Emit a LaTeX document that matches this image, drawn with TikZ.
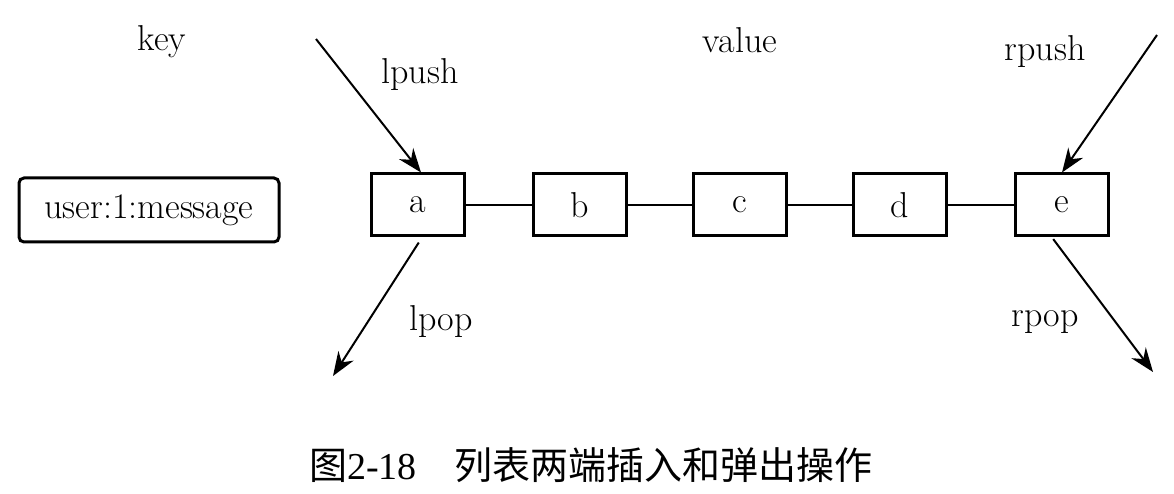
\documentclass[tikz,border=0pt]{standalone}
\usepackage{fontspec}
\newfontfamily\cjk{Noto Sans CJK SC}
\newfontfamily\capnum{Liberation Serif}
\usetikzlibrary{arrows.meta}
\begin{document}
\begin{tikzpicture}
        [x=1pt,y=-1pt,
         cell/.style={draw,line width=3pt,minimum width=93pt,minimum height=62pt,inner sep=0pt},
         link/.style={line width=2pt},
         push/.style={line width=2pt,-{Stealth[length=24pt,width=18pt]}},
         lbl/.style={inner sep=0pt}]
        \useasboundingbox (0,0) rectangle (1174,494);
        \fontsize{36}{40}\selectfont

        \node[lbl] (keytxt) at (162,42) {key};
        \node[lbl] (valtxt) at (740,40) {value};

        \node[draw,line width=3pt,rounded corners=5pt,minimum width=260pt,minimum height=64pt,inner sep=0pt]
          (key) at (149,210) {user:1:message};

        \foreach \n/\x in {a/418,b/580,c/740,d/900,e/1062}
        {\node[cell] (\n) at (\x,205) {\n};}
        \foreach \p/\q in {a/b,b/c,c/d,d/e}
        {\draw[link] (\p) -- (\q);}

        \coordinate (lin) at (316,39);
        \coordinate (rin) at (1157,35);
        \coordinate (lout) at (333,376);
        \coordinate (rout) at (1153,372);
        \draw[push] (lin) -- ([xshift=3pt]a.north);
        \draw[push] (rin) -- (e.north);
        \draw[push,shorten <=6pt] ([xshift=4pt]a.south) -- (lout);
        \draw[push,shorten <=2pt] ([xshift=-10pt]e.south) -- (rout);

        \node[lbl] (lpush) at (420,75) {lpush};
        \node[lbl] (rpush) at (1045,52) {rpush};
        \node[lbl] (lpop) at (441,322) {lpop};
        \node[lbl] (rpop) at (1045,322) {rpop};

        \node[lbl,font=\fontsize{38}{42}\selectfont] (cap) at (591,465)
          {{\cjk 图}{\capnum 2-18}{\cjk\quad 列表两端插入和弹出操作}};
      \end{tikzpicture}
\end{document}
